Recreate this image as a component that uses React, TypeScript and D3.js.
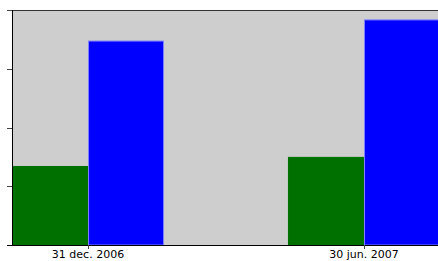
import React from "react";
import * as d3 from "d3";

const categories = ["31 dec. 2006", "30 jun. 2007"];
const seriesNames = ["green", "blue"];
const greenValues = [1.345, 1.5];
const blueValues = [3.48, 3.84];
const yTicks = [0, 1, 2, 3, 4];

const W = 438;
const H = 261;
const left = 12;
const top = 10;
const bottom = 245;
const right = 440;

export default function App() {
  const x0 = d3.scaleBand<string>().domain(categories).range([left, right]).paddingInner(0.449).paddingOuter(0);
  const x1 = d3.scaleBand<string>().domain(seriesNames).range([0, x0.bandwidth()]).padding(0);
  const y = d3.scaleLinear().domain([0, 4]).range([bottom, top]);
  const colors: Record<string, string> = { green: "#007000", blue: "#0000ff" };
  const strokes: Record<string, string> = { green: "#007000", blue: "#8080ff" };
  const data = categories.map((c, i) => ({ c, green: greenValues[i], blue: blueValues[i] }));

  return (
    <svg width={W} height={H} style={{ position: "absolute", left: 0, top: 0, background: "#fff" }}>
      <rect x={left} y={top} width={W - left} height={bottom - top} fill="#cecece" />
      {data.map((d) =>
        seriesNames.map((s) => {
          const v = (d as any)[s] as number;
          return (
            <rect
              key={d.c + s}
              x={(x0(d.c) as number) + (x1(s) as number) + 0.5}
              y={y(v) + 0.5}
              width={x1.bandwidth() - 1}
              height={bottom - y(v) - 0.5}
              fill={colors[s]}
              stroke={strokes[s]}
              strokeWidth={1}
            />
          );
        })
      )}
      {/* top border */}
      <line x1={left} x2={W} y1={top + 0.5} y2={top + 0.5} stroke="#333" strokeWidth={1} />
      {/* y ticks */}
      {yTicks.map((t) => (
        <line key={t} x1={7} x2={left} y1={Math.round(y(t)) + 0.5} y2={Math.round(y(t)) + 0.5} stroke="#444" strokeWidth={1} />
      ))}
      {/* left axis */}
      <line x1={left + 0.5} x2={left + 0.5} y1={top} y2={bottom} stroke="#000" strokeWidth={1} />
      {/* bottom axis */}
      <line x1={7} x2={W} y1={bottom + 0.5} y2={bottom + 0.5} stroke="#000" strokeWidth={1} />
      {categories.map((c) => {
        const cx = Math.round((x0(c) as number) + x0.bandwidth() / 2);
        return (
          <g key={c}>
            <line x1={cx + 0.5} x2={cx + 0.5} y1={bottom} y2={bottom + 4} stroke="#444" strokeWidth={1} />
            <text x={cx} y={258} textAnchor="middle" fontFamily="DejaVu Sans" fontSize={11} fill="#000">
              {c}
            </text>
          </g>
        );
      })}
    </svg>
  );
}
